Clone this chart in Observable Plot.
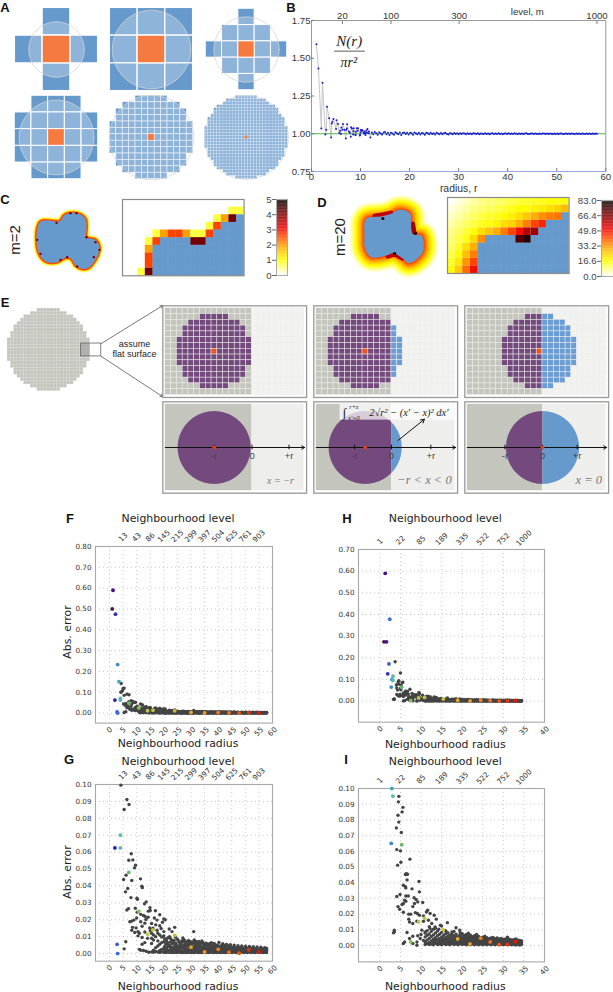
<!DOCTYPE html>
<html><head><meta charset="utf-8">
<script src="https://cdn.jsdelivr.net/npm/d3@7"></script>
<script src="https://cdn.jsdelivr.net/npm/@observablehq/plot@0.6"></script>
<style>
html,body{margin:0;padding:0;background:#fff}
#fig{position:relative;width:613px;height:992px;overflow:hidden;font-family:"Liberation Sans",sans-serif;color:#222}
#fig svg{position:absolute;overflow:visible;max-width:none;background:none}
.t{position:absolute;white-space:nowrap;transform:translate(-50%,-50%)}
</style></head><body><div id="fig"></div>
<script>
// ---------- data ----------
const aRadius=[1,1.414,2,2.236,6.6,13.6];
const bFirstRadius=[1,1.414,2,2.236,2.828,3,3.162,3.606,4,4.123,4.243,4.472,5,5.099,5.385,5.657,5.831,6,6.083,6.325,6.403,6.708,7,7.071,7.211,7.28,7.616,7.81,8,8.062,8.246,8.485,8.544,8.602,8.944,9,9.055,9.22,9.434,9.487,9.849,9.899,10,10.05,10.198,10.296,10.44,10.63,10.77,10.817,11,11.045,11.18,11.314,11.402,11.662,11.705,12];
const bFirstRatio=[1.592,1.432,1.035,1.337,.995,1.026,1.178,1.102,.975,1.067,1.079,1.098,1.031,1.09,1.065,1.005,1.02,.999,1.041,1.027,1.064,1.026,.968,1.025,1.035,1.063,1.015,1.007,.98,1.043,1.035,.995,1.016,1.037,.991,.994,1.013,1.037,1.019,1.036,.988,.991,1.009,1.024,1.019,1.024,1.019,1.006,1.002,1.015,.992,1.005,1.021,1.007,1.031,1.004,1.015,.975];
const bTailDeviation=[9,-4,12,3,-7,10,1,-5,8,11,-3,6,-9,7,2,-6,10,4,-4,8,-8,5,9,-2,7,-5,6,4,-6,8,2,-3,7,-5,5,1,-7,6,3,-4,7,-2,4,-5,6,2,-3,5,-4,3,6,-2,-5,4,1,-3,5,-2,3,-4,3,-2,4,1,-3,3,-1,2,-3,4,1,-2,3,-3,2,0,-2,3,-1,2,-3,1,3,-2,2,-1,3,-2,1,-3,2,2,-1,3,-2,1,-2,3,0,-2,2,-1,2,-2,1,3,-1,-2,2,1,-2,2,0,-1,2,-2,1,2,-1,1,-2,2,0,-1,2,-1,1,-2,1,2,-1,0,2,-2,1,-1,2,0,-1,1,-2,2,-1,1,0,-1,2,-1,1,-1,1,-2,1,0];
const bTailRadius=d3.range(12.3,58.3,.3);
const bLevelTicks=[6.3,16.2,30.1,58.2];
const bLevelNames=["20","100","300","1000"];

const cColorbarTicks=[0,1,2,3,4,5];
const dColorbarTicks=[0,16.6,33.2,49.8,66.4,83];
// b = blue, 0 white, 1 pale yellow, 2 gold, 3 red-orange, 4 dark red
const cRows=["................","..............11","............124b","...........13bbb","....12332113bbbb","...13bbbb44bbbbb","...2bbbbbbbbbbbb","...3bbbbbbbbbbbb","...3bbbbbbbbbbbb","..14bbbbbbbbbbbb"];
const cLevels={"1":.75,"2":1.9,"3":2.6,"4":4.1};
const dRows=[
[0,2,4,6,8,9,10,11,12,13,14,15,15,16,16,17],
[2,4,6,8,9,11,12,13,15,17,17,19,20,22,24,28],
[4,6,8,10,12,14,15,17,19,22,26,30,34,36,37,-1],
[6,8,10,12,14,16,18,22,24,30,36,43,47,-1,-1,-1],
[8,10,13,16,22,26,30,36,43,50,60,62,-1,-1,-1,-1],
[9,12,15,23,34,-1,-1,-1,-1,72,78,-1,-1,-1,-1,-1],
[10,14,22,30,-1,-1,-1,-1,-1,-1,-1,-1,-1,-1,-1,-1],
[12,17,27,36,-1,-1,-1,-1,-1,-1,-1,-1,-1,-1,-1,-1],
[14,20,33,43,-1,-1,-1,-1,-1,-1,-1,-1,-1,-1,-1,-1],
[17,25,38,50,-1,-1,-1,-1,-1,-1,-1,-1,-1,-1,-1,-1]];
const cBlobOutline=[[118,95],[130,90],[160,92],[178,92],[190,75],[205,68],[235,70],[255,85],[258,110],[258,140],[285,148],[297,170],[292,195],[280,215],[265,232],[245,235],[225,225],[212,205],[195,202],[170,215],[140,215],[125,205],[112,180],[108,150],[110,115]];
const cHotSpots=[[168,97],[210,68],[228,68],[258,140],[285,155],[297,178],[120,190],[110,148],[200,200],[180,208],[230,228],[280,200]];
const dBlobOutline=[[165,85],[210,78],[240,70],[262,58],[295,68],[303,130],[330,135],[335,180],[318,205],[290,218],[275,205],[245,188],[225,195],[180,200],[162,175],[160,135]];
const dHotTop=[[190,76],[212,72],[240,66]];
const dHotRight=[[304,100],[308,128]];
const dHotBottom=[[230,198],[250,193],[272,204]];
const dBlackSpots=[[215,84],[250,189],[312,128]];

const fgColoured=[[1,500],[1.3,590],[2,62.5],[2.2,475],[2.8,5.5],[3,0],[3,233],[3.5,151],[4,70],[4,62.5],[7.1,48],[10.8,25],[14,11.5],[16,14],[24,10.8],[30,3.8],[35,1],[40,2.5],[44,.8],[47.7,.2],[51.3,2.2],[55,1]];
const fgGrey=[[4.3,142],[5,118],[4.3,102],[5.4,120],[4.8,108],[4.2,99.6],[6.4,91.1],[7.2,88.2],[5.4,85.2],[8,59],[7.1,55.2],[8.6,55.4],[9.6,52.3],[9.2,50.7],[5.2,43.8],[6.1,46.4],[8.2,43.2],[11.4,44.2],[11.9,39.8],[12.1,39],[6.7,38.5],[5.9,36.5],[7.9,33.1],[10.1,32.7],[10.3,32.1],[13.5,30.6],[12.9,29.4],[7,26.6],[6.4,25.8],[9.5,26.8],[14.9,27.2],[16.9,25.3],[14.3,25.1],[15,25.5],[18.5,23],[10.2,24.5],[11.5,23.2],[12.5,22.5],[13.1,22],[14.2,21.5],[13.4,20.2],[10,21],[16.5,21],[17.5,19.8],[20,20.5],[20.5,20],[19.5,18.5],[8.2,19.2],[9,19.8],[7.5,18.8],[11.5,18.8],[13,18],[15.5,17.8],[17,17],[18.5,16.5],[8.5,15.5],[9.8,15.2],[12,16.2],[14.8,15.2],[16,15],[19,14.8],[24,15.5],[22,14.5],[8.2,13.8],[10.5,13],[9.3,12.5],[11,12],[13,12.8],[15,13.5],[17.5,13.8],[20,13],[23,13],[31,13],[6,7],[5.4,2.8],[10.5,10.5],[12,9.5],[14,9],[13,6.5],[12,5.5],[11,2.5],[11.5,2],[12.5,1.8],[13.5,1.4],[14.5,.8]];
const fgBand=[[15.5,[1,6,9,12]],[16.2,[.8,2,8,11]],[17,[1.2,3.5,10]],[17.8,[.9,4.5,7.5,12]],[18.5,[.7,1.8,5.5,11]],[19.2,[1,2.5,6.5,9.8]],[20,[.8,3,7,10.5]],[20.7,[.6,2,5.8]],[21.4,[1,4.2,6.4,9.2]],[22.1,[.7,1.7,4.8,10]],[22.8,[.9,3.8,8]],[23.5,[.6,2.9,6.6]],[24.2,[.8,2,5.2,9.8]],[24.9,[.6,2.8,4.6,8.6]],[25.6,[.9,3.6,7]],[26.3,[.7,1.4,4.2,5.8]],[27,[.6,3.2,6.8,9.2]],[27.7,[.8,2,4.4,7.6]],[28.4,[.6,2.7,5.4]],[29.1,[.9,1.9,4.6,7.8]],[29.8,[.6,2.5,3.8,7]],[30.5,[.8,3,5.8]],[31.2,[.6,1.5,3.6,8]],[31.9,[.9,2.9,4.4,7.2]],[32.6,[.6,2.4,6.6]],[33.3,[.8,1.7,4,5.4]],[34,[.6,2.3,3.5,7.4]],[34.7,[.9,2.7,5.6]],[35.4,[.6,1.3,3.2,6.2]],[36.1,[.8,2.6,4.8]],[36.8,[.6,1.2,3,5.8]],[37.5,[.9,2.5,3.5,6.4]],[38.2,[.6,1.3,3.1,4.2]],[38.9,[.8,2.4,5.4]],[39.6,[.6,1.2,2.9,4]],[40.3,[.9,2.5,3.3,6.6]],[41,[.6,1.3,2.1,4.1]],[41.7,[.8,2.3,3.2,5.8]],[42.4,[.6,1.2,2,3.8]],[43.1,[.9,1.6,3.1,5.4]],[43.8,[.6,2,2.7,4.4]],[44.5,[.8,1.4,3,5.2]],[45.2,[.6,1.2,1.9,2.6,3.5]],[45.9,[.9,1.5,2.2,2.9,3.8,5]],[46.6,[.6,1.2,1.9,2.6,3.4]],[47.3,[.8,1.4,2.1,2.8,3.7,4.7]],[48,[.6,1.1,1.8,2.5,3.3]],[48.7,[.9,1.5,2.1,2.8,3.6,4.5]],[49.4,[.6,1.2,1.8,2.4,3.2]],[50.1,[.8,1.4,2,2.7,3.5,4.4]],[50.8,[.6,1.1,1.7,2.4,3.1]],[51.5,[.9,1.4,2,2.6,3.4,4.2]],[52.2,[.6,1.1,1.7,2.3,3]],[52.9,[.8,1.3,1.9,2.5,3.2,4.1]],[53.6,[.6,1.1,1.7,2.3,2.9]],[54.3,[.9,1.4,1.9,2.5,3.1,3.9]],[55,[.6,1.1,1.6,2.2,2.8]],[55.7,[.8,1.3,1.8,2.4,3,3.7]],[56.4,[.6,1,1.6,2.1,2.7]],[57.1,[.8,1.3,1.8,2.3,2.9,3.5]],[57.8,[.6,1.1,1.6,2.1,2.6,3.2]]];
const fgBandBetween=[[20.3,[1.4,4.2,8.8]],[21,[.9,3,7.6]],[21.7,[1.9,5.2]],[22.4,[1.1,3.4,6.8,9]],[23.1,[.8,2.4,5.8]],[23.8,[1.6,4,7.8]],[24.5,[.9,3.2,6.2]],[25.2,[1.8,4.2,8]],[25.9,[1,2.7,5.6]],[26.6,[.8,3.4,7.4]],[27.3,[1.6,5,8.4]],[28,[1,3.4,6.2]],[28.7,[.8,2,4.8,7]],[29.4,[1.4,3.4,5.8]],[30.1,[1,2.2,4.6,6.6]],[30.8,[.8,3.6,7]],[31.5,[2.1,4.8,6.2]],[32.2,[1,3.4,5.4]],[32.9,[.8,2,4.4,7.2]],[33.6,[1.3,3.2,6]],[34.3,[.9,4.2,6.6]],[35,[2,3.7,5]],[35.7,[1,2.8,6]],[36.4,[.8,1.9,4.2]],[37.1,[1.5,3.3,5.4]],[37.8,[1,2.2,4.6]],[38.5,[.8,3.6,6]],[39.2,[1.7,3.4,4.8]],[39.9,[1,2.2,5]],[40.6,[.8,1.9,4]],[41.3,[1.6,2.9,5]],[42,[1,3.5,4.6]],[42.7,[.8,2.5,5]],[43.4,[1.3,3.3]],[44.1,[1,2.4,4.4]],[44.8,[.8,1.8,3.7]]];

const hiColoured=[[1,274],[1.3,590],[1.6,274],[1.9,126],[2.2,172],[2.4,378],[2.75,65],[2.9,100],[3.16,95.1],[3.2,115],[5.3,64.2],[7.5,2.3],[9.4,15],[10.85,17.4],[15.4,10],[18.9,4.2],[21.9,1],[24.5,4.7],[26.8,2.3],[29,.6],[31,.8],[32.9,2.5]];
const hiGrey=[[3.7,182],[4.5,91.5],[5.4,85.1],[4.6,78.6],[4,74.9],[4.1,61.1],[5,60.3],[5.1,53],[4.3,51.2],[7.3,55],[6.2,45.2],[6.4,45.8],[6.7,45.4],[6.3,45.2],[6.6,41.8],[9.5,40.8],[9.6,34.2],[5.7,38.4],[6.2,37.4],[6.3,36.7],[7.8,36.1],[4.9,32.5],[4.1,31.2],[6.3,31.6],[6.9,31.6],[8.3,30.4],[8.8,29.3],[10.4,27.4],[6,28.9],[6.3,28.2],[5.7,26.8],[5.4,26.1],[4.4,24.8],[4.8,23.1],[8.4,26.8],[8,24.8],[9.2,27.8],[5.7,21.2],[7,20],[7.5,20],[8.6,21],[9.1,20.4],[9.6,19.3],[11.3,21.4],[11.6,22.5],[12.2,20.4],[13.2,19.3],[10.6,18.9],[7,16.8],[7.2,15],[8,14],[9,15.5],[10.6,15.5],[11.8,16.1],[13.7,16.8],[16.4,14.6],[14.7,13],[12.6,14],[3.5,9.8],[3.5,8.7],[3.3,8.1],[6.6,8.3],[5.7,1.3],[6,2.3],[7.2,4.5],[8,5.9],[9,2.3],[9,.2],[10.2,9.8],[11,8.7],[12.2,10.8],[13.4,11.9],[14.3,10.4],[18.5,11.3],[19.4,9.8],[17.5,8.7],[9.8,4.5],[10.6,3.2],[11.4,1.3],[8,1.3],[10,7],[9.2,6.2],[5,130],[4.6,95],[5.6,88],[4.4,83],[5.2,72]];
const hiBand=[[11,[.7,2.5,5.5,8]],[11.5,[1.2,3.6,6.6,9.4]],[12,[.6,2,4.6,7.4,12]],[12.5,[1,3,5.8,9]],[13,[.5,2.2,4,6.8,10.4]],[13.5,[1.4,3.2,5,8,11]],[14,[.6,1.8,3.8,6.2,9.2]],[14.5,[1,2.6,4.6,7.2]],[15,[.5,1.6,3.4,5.4,8.4,12.4]],[15.5,[1.2,2.8,4.4,6.6]],[16,[.6,1.8,3.2,5,7.6,9.4]],[16.5,[1,2.4,4,6,8.2]],[17,[.5,1.6,3,4.8,6.8]],[17.5,[1.2,2.6,3.8,5.6,7.4]],[18,[.6,1.8,3,4.4,6.2,9]],[18.5,[1,2.2,3.6,5.2,7.2]],[19,[.5,1.5,2.8,4.2,6]],[19.5,[1.1,2.4,3.4,5,6.8,8.2]],[20,[.6,1.6,2.8,4,5.6,7.6]],[20.5,[1,2.2,3.4,4.8,6.4]],[21,[.5,1.4,2.6,3.8,5.2,7]],[21.5,[.9,2,3.2,4.4,6,7.8]],[22,[.5,1.4,2.4,3.6,5,6.6]],[22.5,[1,1.9,3,4.2,5.6]],[23,[.5,1.3,2.4,3.4,4.8,6.2]],[23.5,[.9,1.8,2.8,4,5.2,7]],[24,[.5,1.3,2.2,3.2,4.4,5.8]],[24.5,[1,1.8,2.8,3.8,5]],[25,[.5,1.2,2.1,3,4.2,5.4]],[25.5,[.9,1.7,2.6,3.6,4.8,6]],[26,[.5,1.2,2,2.9,4,5]],[26.5,[1,1.7,2.5,3.4,4.4]],[27,[.5,1.2,1.9,2.8,3.8,4.8]],[27.5,[.9,1.5,2.3,3.2,4.2,5.2]],[28,[.5,1.1,1.8,2.6,3.5,4.4]],[28.5,[.9,1.5,2.2,3,3.9,4.8]],[29,[.5,1.1,1.8,2.5,3.3,4.2]],[29.5,[.8,1.4,2.1,2.9,3.7,4.6]],[30,[.5,1,1.7,2.4,3.1,3.9]],[30.5,[.8,1.3,2,2.7,3.4,4.2]],[31,[.5,1,1.6,2.3,3,3.7,5.4]],[31.5,[.8,1.3,1.9,2.6,3.3,4]],[32,[.5,1,1.5,2.2,2.9,3.5]],[32.5,[.7,1.2,1.8,2.4,3.1,3.8]],[33,[.4,.9,1.5,2.1,2.7,3.3,4.2]],[33.5,[.7,1.2,1.8,2.4,3,3.6]],[34,[.4,.9,1.4,2,2.6,3.2]],[34.4,[.6,1.1,1.6,2.2,2.7,3]]];
const fgRadiusTicks=[0,5,10,15,20,25,30,35,40,45,50,55,60];
const hiRadiusTicks=[0,5,10,15,20,25,30,35,40];
const fLevelLabels=[[5,"13"],[10,"43"],[15,"86"],[20,"145"],[25,"215"],[30,"299"],[35,"397"],[40,"504"],[45,"625"],[50,"761"],[55,"903"]];
const hLevelLabels=[[0,"1"],[5,"22"],[10,"85"],[15,"189"],[20,"335"],[25,"522"],[30,"752"],[35,"1000"]];

// ---------- styles & helpers ----------
const BLUE="#6699cc",ORANGE="#f47a40",GREY="#c4c6bd",LIGHT="#eeeeec",PURPLE="#744a7e",DOT="#444444";
const DEJA='"DejaVu Sans",sans-serif',LIB='"Liberation Sans",sans-serif',SERIF='"Liberation Serif","DejaVu Serif",serif';
const heatStops=[0,.2,.36,.5,.62,.8,1],heatColors=["#ffffff","#ffff00","#ffb000","#ff5000","#f00000","#800000","#000000"];
const heatAt=d3.scaleLinear(heatStops,heatColors).interpolate(d3.interpolateRgb);
const fig=document.getElementById("fig");
const unitCircle=d3.range(0,361,3).map(a=>[Math.cos(a*Math.PI/180),Math.sin(a*Math.PI/180)]);
function panel(left,top,width,height,options){
  const svg=Plot.plot({width,height,marginLeft:0,marginRight:0,marginTop:0,marginBottom:0,...options});
  svg.style.left=left+"px";svg.style.top=top+"px";
  fig.append(svg);return svg;
}
function label(text,x,y,size,extra={}){
  const d=document.createElement("div");d.className="t";d.textContent=text;
  d.style.left=x+"px";d.style.top=y+"px";d.style.fontSize=size+"px";
  if(extra.rotate)d.style.transform=`translate(-50%,-50%) rotate(${extra.rotate}deg)`;
  if(extra.bold)d.style.fontWeight="bold";
  if(extra.font)d.style.fontFamily=extra.font;
  if(extra.color)d.style.color=extra.color;
  fig.append(d);
}
function disc(r,cx,cy,opts){return Plot.line(unitCircle,{x:d=>cx+r*d[0],y:d=>cy+r*d[1],...opts});}

// ---------- A ----------
const aLayout=[[56,49.3,27.7,1.2,"#fff"],[150.7,49.3,27.7,1.2,"#fff"],[245.6,49.3,16.3,1,"#fff"],[56,137.3,16.7,1,"#fff"],[150.7,137.3,6.4,.55,"#eef3fa"],[245.7,137.3,3.07,.18,"#e4edf7"]];
aRadius.forEach((R,k)=>{
  const [cx,cy,cell,gap,line]=aLayout[k],half=43/cell,n=Math.ceil(R);
  const cells=[];
  for(let i=-n;i<=n;i++)for(let j=-n;j<=n;j++)if(i*i+j*j<=R*R+.01)cells.push({i,j});
  panel(cx-43,cy-43,86,86,{x:{axis:null,domain:[-half,half]},y:{axis:null,domain:[half,-half]},marks:[
    Plot.rect(cells,{x1:d=>d.i-.5,x2:d=>d.i+.5,y1:d=>d.j-.5,y2:d=>d.j+.5,fill:BLUE,stroke:line,strokeWidth:gap}),
    disc(R,0,0,{fill:"#fff",fillOpacity:.27,stroke:"#d4d4d4",strokeWidth:.8}),
    Plot.rect([{i:0,j:0}],{x1:d=>d.i-.5,x2:d=>d.i+.5,y1:d=>d.j-.5,y2:d=>d.j+.5,fill:ORANGE,stroke:line,strokeWidth:gap})
  ]});
});

// ---------- B ----------
const bFirst=bFirstRadius.map((r,i)=>({r,v:bFirstRatio[i]}));
const bTail=bTailRadius.map((r,i)=>({r,v:1+bTailDeviation[i]/1000}));
const bAll=bFirst.concat(bTail);
panel(280.7,6,332.3,191,{marginLeft:30,marginRight:8,marginTop:14,marginBottom:26,
  style:{fontFamily:LIB,fontSize:"9.6px",color:"#333"},
  x:{domain:[0,60]},y:{domain:[.75,1.75]},marks:[
  Plot.line(bAll,{x:"r",y:"v",stroke:"#c6c6c6",strokeWidth:1}),
  Plot.ruleY([1],{stroke:"#4fb548",strokeWidth:1.1}),
  Plot.dot(bAll,{x:"r",y:"v",fill:"#1a1ad6",r:1}),
  Plot.frame({stroke:"#999"}),
  Plot.ruleY([.75],{stroke:"#9aa6e6"}),
  Plot.axisX({anchor:"bottom",ticks:[0,10,20,30,40,50,60],tickSize:-3,tickPadding:5,label:null,stroke:"#777",fontSize:9.6}),
  Plot.axisY({anchor:"left",ticks:[.75,1,1.25,1.5,1.75],tickFormat:".2f",tickSize:-3,tickPadding:4,label:null,stroke:"#777",fontSize:9.6}),
  Plot.axisX({anchor:"top",ticks:bLevelTicks,tickSize:-3,tickPadding:4,tickFormat:(d,i)=>bLevelNames[i],label:null,stroke:"#777",fontSize:9.6}),
  Plot.text(["level, m"],{x:44,frameAnchor:"top",lineAnchor:"middle",dy:-9,fontSize:9.6,fill:"#333"}),
  Plot.text(["radius, r"],{x:30,frameAnchor:"bottom",lineAnchor:"middle",dy:17,fontSize:10.4,fill:"#333"}),
  Plot.text(["N(r)"],{x:7.7,y:1.615,fontSize:15,fontStyle:"italic",fontFamily:SERIF,fill:"#222"}),
  Plot.line([[4.7,1.547],[10.8,1.547]],{x:d=>d[0],y:d=>d[1],stroke:"#333",strokeWidth:.8}),
  Plot.text(["πr²"],{x:7.6,y:1.475,fontSize:14,fontStyle:"italic",fontFamily:SERIF,fill:"#222"})
]});

// ---------- C ----------
const blobScales={x:{axis:null,domain:[0,900]},y:{axis:null,domain:[285,0]}};
const pt={x:d=>d[0],y:d=>d[1]};
panel(0,190,300,95,{...blobScales,marks:[
  Plot.line(cBlobOutline,{...pt,curve:"catmull-rom-closed",stroke:"#ffff66",strokeWidth:6.8,strokeLinejoin:"round"}),
  Plot.line(cBlobOutline,{...pt,curve:"catmull-rom-closed",stroke:"#ffc800",strokeWidth:4.4}),
  Plot.line(cBlobOutline,{...pt,curve:"catmull-rom-closed",stroke:"#ff4800",strokeWidth:2.8}),
  Plot.line(cBlobOutline,{...pt,curve:"catmull-rom-closed",fill:BLUE}),
  Plot.dot(cHotSpots,{...pt,r:1.2,fill:"#7a0000"})
]});
const cCells=[];
cRows.forEach((row,j)=>[...row].forEach((ch,i)=>{if(ch!==".")cCells.push({i,j,ch});}));
panel(121.7,199,121.6,76.3,{x:{axis:null,domain:[0,16]},y:{axis:null,domain:[10,0]},
  color:{type:"linear",domain:heatStops.map(s=>s*5),range:heatColors,interpolate:"rgb"},marks:[
  Plot.rect(cCells.filter(d=>d.ch==="b"),{x1:"i",x2:d=>d.i+1,y1:"j",y2:d=>d.j+1,fill:BLUE,stroke:BLUE,strokeWidth:.6}),
  Plot.rect(cCells.filter(d=>d.ch!=="b"),{x1:"i",x2:d=>d.i+1,y1:"j",y2:d=>d.j+1,fill:d=>cLevels[d.ch]}),
  Plot.frame({stroke:"#8a8a8a",strokeWidth:1.2})
]});
function colorbar(left,top,width,height,max,ticks,fmt,marginLeft){
  const steps=d3.range(0,1,.01);
  panel(left-marginLeft,top,width+marginLeft,height,{marginLeft,style:{fontFamily:LIB,fontSize:"9.6px",color:"#444"},
    x:{axis:null,domain:[0,1]},y:{domain:[0,max]},
    color:{type:"linear",domain:heatStops.map(s=>s*max),range:heatColors,interpolate:"rgb"},marks:[
    Plot.rect(steps,{x1:0,x2:1,y1:d=>d*max,y2:d=>(d+.0105)*max,fill:d=>(d+.005)*max}),
    Plot.frame({stroke:"#aaa"}),
    Plot.axisY({ticks,tickFormat:fmt,tickSize:4,tickPadding:1,label:null,fontSize:9.6,stroke:"#666"})
  ]});
}
colorbar(276,199,11,76,5,cColorbarTicks,d3.format("d"),18);
label("m=2",13.5,240,15,{rotate:-90});

// ---------- D ----------
const dHalo=d3.range(16,0,-1).map(e=>{
  const t=(1-e/16);
  return Plot.line(dBlobOutline,{...pt,curve:"catmull-rom-closed",stroke:heatAt(Math.pow(t,1.25)*.55),strokeWidth:e*2,strokeLinejoin:"round"});
});
panel(310,190,303,95,{...blobScales,marks:[
  ...dHalo,
  Plot.line(dHotTop,{...pt,curve:"catmull-rom",stroke:"#c00000",strokeWidth:4}),
  Plot.line(dHotRight,{...pt,stroke:"#a00000",strokeWidth:4.5}),
  Plot.line(dHotBottom,{...pt,curve:"catmull-rom",stroke:"#c00000",strokeWidth:4.5}),
  Plot.line(dBlobOutline,{...pt,curve:"catmull-rom-closed",fill:BLUE}),
  Plot.dot(dBlackSpots,{...pt,r:1.6,fill:"#200000"})
]});
const dCells=[];
dRows.forEach((row,j)=>row.forEach((v,i)=>dCells.push({i,j,v})));
panel(446.7,197.3,121.6,76,{x:{axis:null,domain:[0,16]},y:{axis:null,domain:[10,0]},
  color:{type:"linear",domain:heatStops.map(s=>s*83),range:heatColors,interpolate:"rgb"},marks:[
  Plot.rect(dCells.filter(d=>d.v<0),{x1:"i",x2:d=>d.i+1,y1:"j",y2:d=>d.j+1,fill:BLUE,stroke:BLUE,strokeWidth:.6}),
  Plot.rect(dCells.filter(d=>d.v>=0),{x1:"i",x2:d=>d.i+1,y1:"j",y2:d=>d.j+1,fill:"v"}),
  Plot.frame({stroke:"#8a8a8a",strokeWidth:1.2})
]});
colorbar(601,200,12,76,83,dColorbarTicks,d3.format(".1f"),27);
label("m=20",339,237,15,{rotate:-90});

// ---------- E ----------
const eCells=[];
for(let i=-13;i<=13;i++)for(let j=-13;j<=13;j++)if(i*i+j*j<=12.5*12.5)eCells.push({i,j});
const leaderTop=[[15.9,-1.9],[34.5,-13.4]],leaderBottom=[[15.9,2],[34.5,14.2]];
panel(0,300,165,110,{x:{axis:null,domain:[-14.64,35.36]},y:{axis:null,domain:[18.39,-14.94]},marks:[
  Plot.rect(eCells,{x1:d=>d.i-.5,x2:d=>d.i+.5,y1:d=>d.j-.5,y2:d=>d.j+.5,fill:GREY,stroke:"#dcdcd8",strokeWidth:.22}),
  Plot.rect([[9.8,12.6]],{x1:d=>d[0],x2:d=>d[1],y1:-1.9,y2:2,fill:"#9a9c96",fillOpacity:.55,stroke:"none"}),
  Plot.rect([[12.6,15.9]],{x1:d=>d[0],x2:d=>d[1],y1:-1.9,y2:2,fill:"#fff"}),
  Plot.rect([[9.8,15.9]],{x1:d=>d[0],x2:d=>d[1],y1:-1.9,y2:2,stroke:"#666",fill:"none",strokeWidth:.8}),
  Plot.arrow([leaderTop,leaderBottom],{x1:d=>d[0][0],y1:d=>d[0][1],x2:d=>d[1][0],y2:d=>d[1][1],stroke:"#555",strokeWidth:.8,headLength:5,bend:0}),
  Plot.text(["assume\nflat surface"],{x:26,y:-.4,fontSize:9,fontFamily:LIB,fill:"#222",lineHeight:1.15})
]});
const boxLefts=[162.3,313.3,464.3];
const eTopSpec=[[15,8],[13,8],[13,12]];
const eBoxStyle={x:{axis:null,domain:[0,24]},y:{axis:null,domain:[15,0]},marginLeft:2.8,marginRight:2.8,marginTop:2.8,marginBottom:2.8};
eTopSpec.forEach(([edge,centre],k)=>{
  const cells=[];
  for(let i=0;i<24;i++)for(let j=0;j<15;j++){
    const inside=(i-centre)**2+(j-7)**2<=43.6;
    cells.push({i,j,fill:i===centre&&j===7?"#f0521c":inside?(i<edge?PURPLE:"#6a9dd6"):(i<edge?GREY:"#f2f2f0")});
  }
  panel(boxLefts[k],304.7,144.4,92.3,{...eBoxStyle,marks:[
    Plot.rect(cells,{x1:"i",x2:d=>d.i+1,y1:"j",y2:d=>d.j+1,fill:"fill",stroke:"#ecece8",strokeWidth:.5}),
    Plot.frame({inset:-2.5,stroke:"#999",strokeWidth:1.3})
  ]});
});
const eBottomSpec=[
 {edge:15,centre:8.45,ticks:[[8.45,"-r"],[15,"0"],[21.4,"+r"]],note:"x = −r",noteX:19.9,noteSize:10},
 {edge:13,centre:8.45,ticks:[[6.6,"-r"],[13,"0"],[19.8,"+r"]],note:"−r < x < 0",noteX:18.7,noteSize:12.5},
 {edge:13,centre:13,ticks:[[6.5,"-r"],[13,"0"],[19,"+r"]],note:"x = 0",noteX:21,noteSize:12.5}];
const eRadius=6.32;
const mathText={fontFamily:SERIF,fontStyle:"italic",fill:"#222"};
eBottomSpec.forEach((s,k)=>{
  const overlay=k===1?[
    Plot.rect([0],{x1:4.1,x2:24,y1:0,y2:2.75,fill:"#fff",fillOpacity:.72}),
    Plot.text(["∫"],{x:4.9,y:1.4,fontSize:13,...mathText}),
    Plot.text(["r+x"],{x:6.5,y:.55,fontSize:6.2,...mathText}),
    Plot.text(["x′=0"],{x:6.5,y:2.3,fontSize:6.2,...mathText}),
    Plot.text(["2√r² − (x′ − x)² dx′"],{x:16,y:1.4,fontSize:10.5,...mathText}),
    Plot.arrow([[14.1,6.3,18.7,2.6]],{x1:d=>d[0],y1:d=>d[1],x2:d=>d[2],y2:d=>d[3],stroke:"#111",strokeWidth:1,headLength:6,bend:0})
  ]:[];
  panel(boxLefts[k],400.7,144.4,92,{...eBoxStyle,marks:[
    Plot.rect([0],{x1:0,x2:s.edge,y1:0,y2:15,fill:GREY}),
    Plot.rect([0],{x1:s.edge,x2:24,y1:0,y2:15,fill:LIGHT}),
    Plot.line(unitCircle,{x:d=>Math.min(s.centre+eRadius*d[0],s.edge),y:d=>7.5+eRadius*d[1],fill:PURPLE}),
    Plot.line(unitCircle,{x:d=>Math.max(s.centre+eRadius*d[0],s.edge),y:d=>7.5+eRadius*d[1],fill:BLUE}),
    ...overlay,
    Plot.arrow([[0,24.1]],{x1:d=>d[0],x2:d=>d[1],y1:7.5,y2:7.5,stroke:"#111",strokeWidth:1,headLength:5,bend:0}),
    Plot.ruleX(s.ticks,{x:d=>d[0],y1:7.1,y2:7.9,stroke:"#111"}),
    Plot.dot([s.centre],{x:d=>d,y:7.5,r:1.8,fill:"#f0400c"}),
    Plot.text(s.ticks,{x:d=>d[0],y:8.9,text:d=>d[1],fontSize:9.5,fontFamily:LIB,fill:"#444"}),
    Plot.text([s.note],{x:s.noteX,y:13.2,fontSize:s.noteSize,fontFamily:SERIF,fontStyle:"italic",fill:"#777"}),
    Plot.frame({inset:-2.5,stroke:"#999",strokeWidth:1.3})
  ]});
});

// ---------- F G H I ----------
const colouredRange=["#5e0a3c","#4a0d7a","#2f1fa6","#3a2fb0","#3a5fd0","#4169e1","#3d8bc4","#45a5b8","#5bbcaa","#5db5b0","#66bb6a","#84c05a","#bcc94e","#c4c440","#cfb93a","#e5a82a","#f0982a","#f08024","#f0701f","#f05a15","#ee3010","#ee1500"];
function flatten(grey,band){
  const out=grey.map(([r,e])=>({r,e:e/1000}));
  band.forEach(([r,list])=>list.forEach(e=>out.push({r,e:e/1000})));
  return out;
}
function errorPanel(box,xDomain,yDomain,yTicks,fmt,grey,coloured,levels,rTicks){
  const top=box.top-40,left=box.left-32;
  const points=grey.filter(d=>d.e<=yDomain[1]);
  const hues=coloured.map(([r,e],i)=>({r,e:e/1000,i})).filter(d=>d.e<=yDomain[1]);
  const bottomLabels=[1,2].map(n=>Plot.text(rTicks.filter(d=>String(d).length===n),{x:d=>d,text:d=>String(d),frameAnchor:"bottom",lineAnchor:"middle",rotate:-45,dy:5+1.8*n,fontSize:7.4,fill:"#333"}));
  const topLabels=[1,2,3,4].map(n=>Plot.text(levels.filter(d=>d[1].length===n),{x:d=>d[0],text:d=>d[1],frameAnchor:"top",lineAnchor:"middle",rotate:-45,dy:-(7+1.1*n),fontSize:7.4,fill:"#333"}));
  panel(left,top,box.width+32+6,box.height+40+26,{marginLeft:32,marginRight:6,marginTop:40,marginBottom:26,
    style:{fontFamily:DEJA,fontSize:"7px",color:"#333"},
    x:{axis:null,domain:xDomain},y:{domain:yDomain},
    color:{type:"ordinal",domain:d3.range(coloured.length),range:colouredRange},marks:[
    Plot.ruleX(rTicks,{stroke:"#c9c9c9",strokeDasharray:"1,3"}),
    Plot.ruleY(yTicks,{stroke:"#c9c9c9",strokeDasharray:"1,3"}),
    Plot.frame({stroke:"#a8a8a8",strokeWidth:1.1}),
    Plot.dot(points,{x:"r",y:"e",r:1.7,fill:DOT}),
    Plot.dot(hues,{x:"r",y:"e",r:1.9,fill:"i"}),
    Plot.axisY({ticks:yTicks,tickFormat:fmt,tickSize:0,tickPadding:4,label:null,fontSize:7.2}),
    ...bottomLabels,...topLabels
  ]});
}
const fg=flatten(fgGrey,fgBand.concat(fgBandBetween)),hi=flatten(hiGrey,hiBand);
const t01=[0,.1,.2,.3,.4,.5,.6,.7,.8],t001=[0,.01,.02,.03,.04,.05,.06,.07,.08,.09,.1];
errorPanel({left:95.3,top:545.7,width:177,height:176.6},[-5.15,60],[-.048,.8],t01,".2f",fg,fgColoured,fLevelLabels,fgRadiusTicks);
errorPanel({left:95.3,top:784.3,width:177,height:176.7},[-5.15,60],[-.0045,.1],t001,".2f",fg,fgColoured,fLevelLabels,fgRadiusTicks);
errorPanel({left:358.3,top:549,width:186,height:172.7},[-5.2,40],[-.097,.7],t01.slice(0,8),".2f",hi,hiColoured,hLevelLabels,hiRadiusTicks);
errorPanel({left:358.3,top:788.3,width:186,height:173.4},[-5.2,40],[-.0104,.1],t001,".2f",hi,hiColoured,hLevelLabels,hiRadiusTicks);
for(const [x,ys] of [[178,[[518,743.3],[760.7,985.7]]],[445.3,[[518,743.7],[760.7,985.7]]]])
  for(const [a,b] of ys){
    label("Neighbourhood level",x,a,10.9,{font:DEJA});
    label("Neighbourhood radius",x,b,10.9,{font:DEJA});
  }
label("Abs. error",67,632,10.9,{font:DEJA,rotate:-90});
label("Abs. error",67,871.7,10.9,{font:DEJA,rotate:-90});

// ---------- letters ----------
[["A",5,7],["B",291,7],["C",5,199],["D",322,202],["E",5,302],["F",70,518],["G",69,759],["H",347,518],["I",346,759]]
 .forEach(([t,x,y])=>label(t,x,y,13,{bold:true,color:"#111"}));
</script></body></html>
